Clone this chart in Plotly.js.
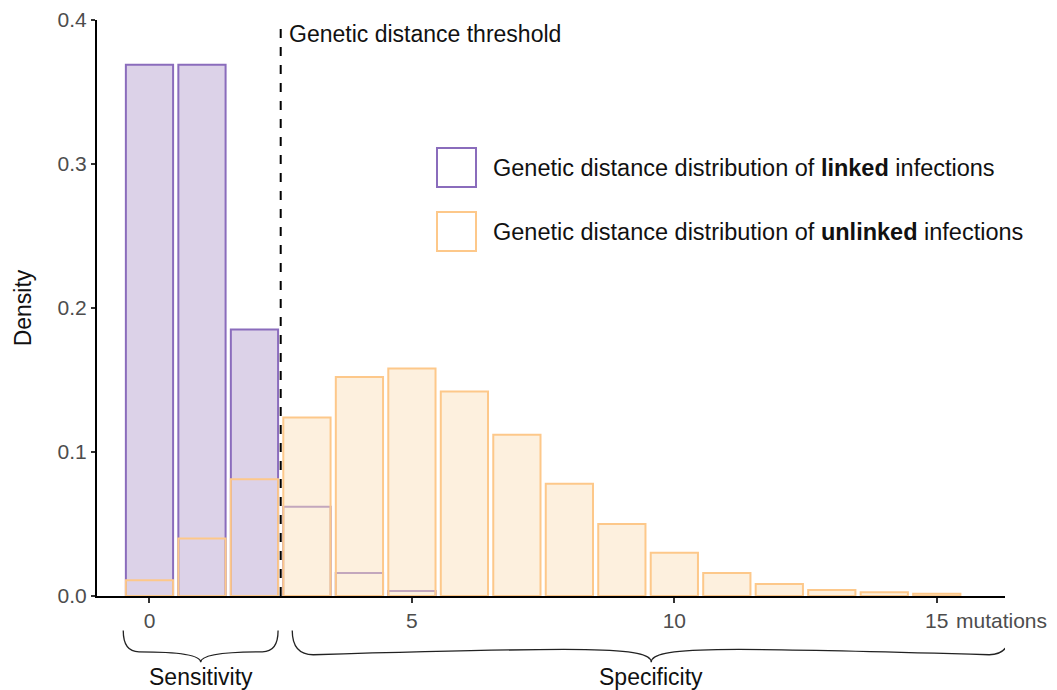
<!DOCTYPE html>
<html>
<head>
<meta charset="utf-8">
<script src="https://cdn.plot.ly/plotly-3.0.1.min.js"></script>
<style>html,body{margin:0;padding:0;background:#fff;}#chart{width:1057px;height:690px;}</style>
</head>
<body>
<div id="chart"></div>
<script>
// Data
const linkedX = [0, 1, 2, 3, 4, 5];
const linkedDensity = [0.369, 0.369, 0.185, 0.062, 0.016, 0.0035];
const unlinkedX = [0, 1, 2, 3, 4, 5, 6, 7, 8, 9, 10, 11, 12, 13, 14, 15];
const unlinkedDensity = [0.011, 0.040, 0.081, 0.124, 0.152, 0.158, 0.142, 0.112, 0.078, 0.050, 0.030, 0.016, 0.0083, 0.0042, 0.0026, 0.0016];
const threshold = 2.5;
const xTickVals = [0, 5, 10, 15];
const xTickText = ['0', '5', '10', '15'];
const yTickVals = [0, 0.1, 0.2, 0.3, 0.4];
const yTickText = ['0.0', '0.1', '0.2', '0.3', '0.4'];
const sensitivityRange = [-0.5, 2.45];
const specificityRange = [2.72, 16.4];
const legendLabels = ['Genetic distance distribution of <b>linked</b> infections',
                      'Genetic distance distribution of <b>unlinked</b> infections'];

const purple = 'rgb(138,108,188)';
const purpleFill = 'rgb(220,210,232)';
const orange = 'rgb(253,200,138)';
const creamFill = 'rgba(252,225,190,0.5)';
const FONT = 'Liberation Sans, Arial, sans-serif';

// the taller bar of each pair shows its own fill on top
function unlinkedAt(x) { const i = unlinkedX.indexOf(x); return i < 0 ? 0 : unlinkedDensity[i]; }
function linkedAt(x) { const i = linkedX.indexOf(x); return i < 0 ? 0 : linkedDensity[i]; }
const linkedFills = linkedX.map((x, i) => linkedDensity[i] >= unlinkedAt(x) ? purpleFill : 'rgba(0,0,0,0)');
const unlinkedFills = unlinkedX.map((x, i) => unlinkedDensity[i] > linkedAt(x) ? creamFill : 'rgba(0,0,0,0)');

const traces = [
  {type: 'bar', x: linkedX, y: linkedDensity, width: 0.9,
   marker: {color: linkedFills, line: {color: purple, width: 2}},
   hoverinfo: 'skip', showlegend: false},
  {type: 'bar', x: unlinkedX, y: unlinkedDensity, width: 0.9,
   marker: {color: unlinkedFills, line: {color: orange, width: 2}},
   hoverinfo: 'skip', showlegend: false}
];

function bracePath(x0, x1, yTop, yOuter, yInner, yTip, curl) {
  const xm = (x0 + x1) / 2;
  const d = curl;
  return 'M' + x0 + ',' + yTop +
    ' Q' + x0 + ',' + yOuter + ' ' + (x0 + d) + ',' + yOuter +
    ' C' + (xm - 3 * d) + ',' + yInner + ' ' + xm + ',' + yInner + ' ' + xm + ',' + yTip +
    ' C' + xm + ',' + yInner + ' ' + (xm + 3 * d) + ',' + yInner + ' ' + (x1 - d) + ',' + yOuter +
    ' Q' + x1 + ',' + yOuter + ' ' + x1 + ',' + yTop;
}

const shapes = [
  {type: 'line', xref: 'x', yref: 'y', x0: threshold, x1: threshold, y0: 0, y1: 0.4,
   line: {color: 'black', width: 2, dash: 'dash'}},
  {type: 'path', xref: 'x', yref: 'paper',
   path: bracePath(sensitivityRange[0], sensitivityRange[1], -0.060, -0.097, -0.097, -0.115, 0.3),
   line: {color: '#222', width: 1.3}},
  {type: 'path', xref: 'x', yref: 'paper',
   path: bracePath(specificityRange[0], specificityRange[1], -0.060, -0.102, -0.088, -0.115, 0.4),
   line: {color: '#222', width: 1.3}},
  {type: 'rect', xref: 'paper', yref: 'paper',
   x0: (437 - 97) / 908, x1: (476 - 97) / 908, y0: (596 - 187) / 576, y1: (596 - 148) / 576,
   line: {color: purple, width: 2}, fillcolor: 'rgba(0,0,0,0)'},
  {type: 'rect', xref: 'paper', yref: 'paper',
   x0: (437 - 97) / 908, x1: (476 - 97) / 908, y0: (596 - 251) / 576, y1: (596 - 212) / 576,
   line: {color: orange, width: 2}, fillcolor: 'rgba(0,0,0,0)'}
];

const annotations = [
  {text: 'Genetic distance threshold', xref: 'x', yref: 'paper', x: threshold, y: (596 - 34) / 576,
   xanchor: 'left', yanchor: 'middle', xshift: 6, showarrow: false,
   font: {family: FONT, size: 23, color: '#111'}},
  {text: legendLabels[0], xref: 'paper', yref: 'paper', x: (491 - 97) / 908, y: (596 - 168) / 576,
   xanchor: 'left', yanchor: 'middle', showarrow: false, font: {family: FONT, size: 23.5, color: '#111'}},
  {text: legendLabels[1], xref: 'paper', yref: 'paper', x: (491 - 97) / 908, y: (596 - 232) / 576,
   xanchor: 'left', yanchor: 'middle', showarrow: false, font: {family: FONT, size: 23.5, color: '#111'}},
  {text: 'mutations', xref: 'x', yref: 'paper', x: 15, y: 0, yshift: -24,
   xanchor: 'left', yanchor: 'middle', xshift: 17, showarrow: false,
   font: {family: FONT, size: 21, color: '#4d4d4d'}},
  {text: 'Sensitivity', xref: 'x', yref: 'paper', x: (sensitivityRange[0] + sensitivityRange[1]) / 2,
   y: (596 - 677) / 576, xanchor: 'center', yanchor: 'middle', showarrow: false,
   font: {family: FONT, size: 23, color: '#111'}},
  {text: 'Specificity', xref: 'x', yref: 'paper', x: (specificityRange[0] + specificityRange[1]) / 2,
   y: (596 - 677) / 576, xanchor: 'center', yanchor: 'middle', showarrow: false,
   font: {family: FONT, size: 23, color: '#111'}}
];

const layout = {
  width: 1057, height: 690,
  margin: {l: 97, r: 52, t: 20, b: 94},
  paper_bgcolor: 'white', plot_bgcolor: 'white',
  barmode: 'overlay',
  showlegend: false,
  font: {family: FONT},
  xaxis: {
    range: [-1.0, 16.3], tickvals: xTickVals, ticktext: xTickText,
    showgrid: false, zeroline: false, showline: true, linecolor: 'black', linewidth: 2,
    ticks: 'outside', ticklen: 5, tickwidth: 2, tickcolor: '#333',
    tickfont: {family: FONT, size: 21, color: '#4d4d4d'}, fixedrange: true
  },
  yaxis: {
    range: [0, 0.4], tickvals: yTickVals, ticktext: yTickText,
    showgrid: false, zeroline: false, showline: true, linecolor: 'black', linewidth: 2,
    ticks: 'outside', ticklen: 4, tickwidth: 1.5, tickcolor: '#333',
    tickfont: {family: FONT, size: 21, color: '#4d4d4d'},
    title: {text: 'Density', font: {family: FONT, size: 23, color: '#111'}, standoff: 20},
    fixedrange: true
  },
  shapes: shapes,
  annotations: annotations
};

Plotly.newPlot('chart', traces, layout, {displayModeBar: false, staticPlot: true});
</script>
</body>
</html>
